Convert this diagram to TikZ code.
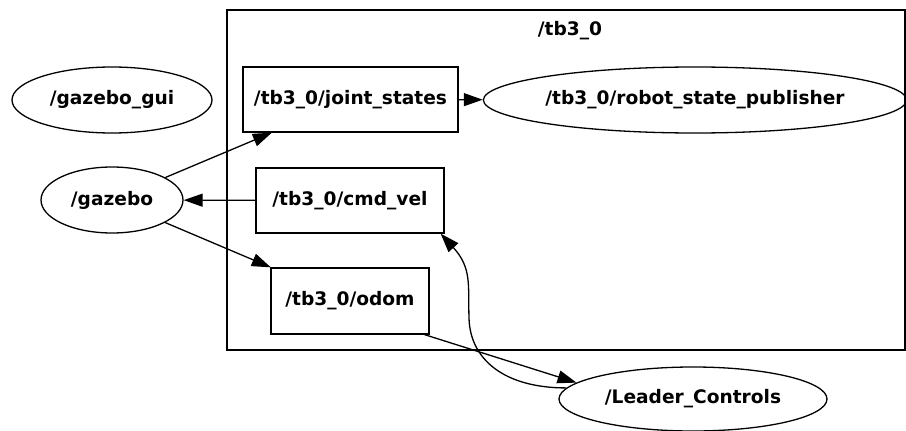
\documentclass[tikz,border=0pt]{standalone}
\usepackage{fontspec}
\setmainfont{DejaVu Sans}
\usetikzlibrary{shapes.geometric,arrows.meta,calc}
\begin{document}
\begin{tikzpicture}[x=1pt,y=-1pt,
  every node/.style={font=\fontsize{18.6}{20}\selectfont\bfseries, inner sep=0pt},
  nodeell/.style={draw, ellipse, line width=1.3pt},
  topicbox/.style={draw, rectangle, line width=1.3pt},
  edge/.style={line width=1.3pt, -{Triangle[length=19pt,width=13pt]}}]
\useasboundingbox (0,0) rectangle (906,431);
% cluster
\draw[line width=1.5pt] (227,10) rectangle (905,350);
\node (cl) at (570,31) {/tb3\_0};
% nodes
\node[nodeell, minimum width=200pt, minimum height=66pt] (gui) at (112,100) {/gazebo\_gui};
\node[nodeell, minimum width=142pt, minimum height=66pt] (gazebo) at (112,200) {/gazebo};
\node[topicbox, minimum width=215pt, minimum height=65pt] (js) at (350.5,99.5) {/tb3\_0/joint\_states};
\node[nodeell, minimum width=416pt, minimum height=66pt] (rsp) at (695,100) {/tb3\_0/robot\_state\_publisher};
\node[topicbox, minimum width=188pt, minimum height=65pt] (cmd) at (350,200.5) {/tb3\_0/cmd\_vel};
\node[topicbox, minimum width=158pt, minimum height=66pt] (odom) at (350,301) {/tb3\_0/odom};
\node[nodeell, minimum width=268pt, minimum height=64pt] (lc) at (693,399) {/Leader\_Controls};
% edges
\draw[edge] (gazebo) -- (js);
\draw[edge] (cmd) -- (gazebo);
\draw[edge] (gazebo) -- (odom);
\draw[edge] (js) -- (rsp);
\draw[edge] ($(odom.south east)+(-5,0)$) -- (lc.172);
\draw[edge] (lc.175) .. controls (505,388) and (470,360) .. (469,318)
  .. controls (468,285) and (472,268) .. ($(cmd.south east)+(-4,0)$);
\end{tikzpicture}
\end{document}
